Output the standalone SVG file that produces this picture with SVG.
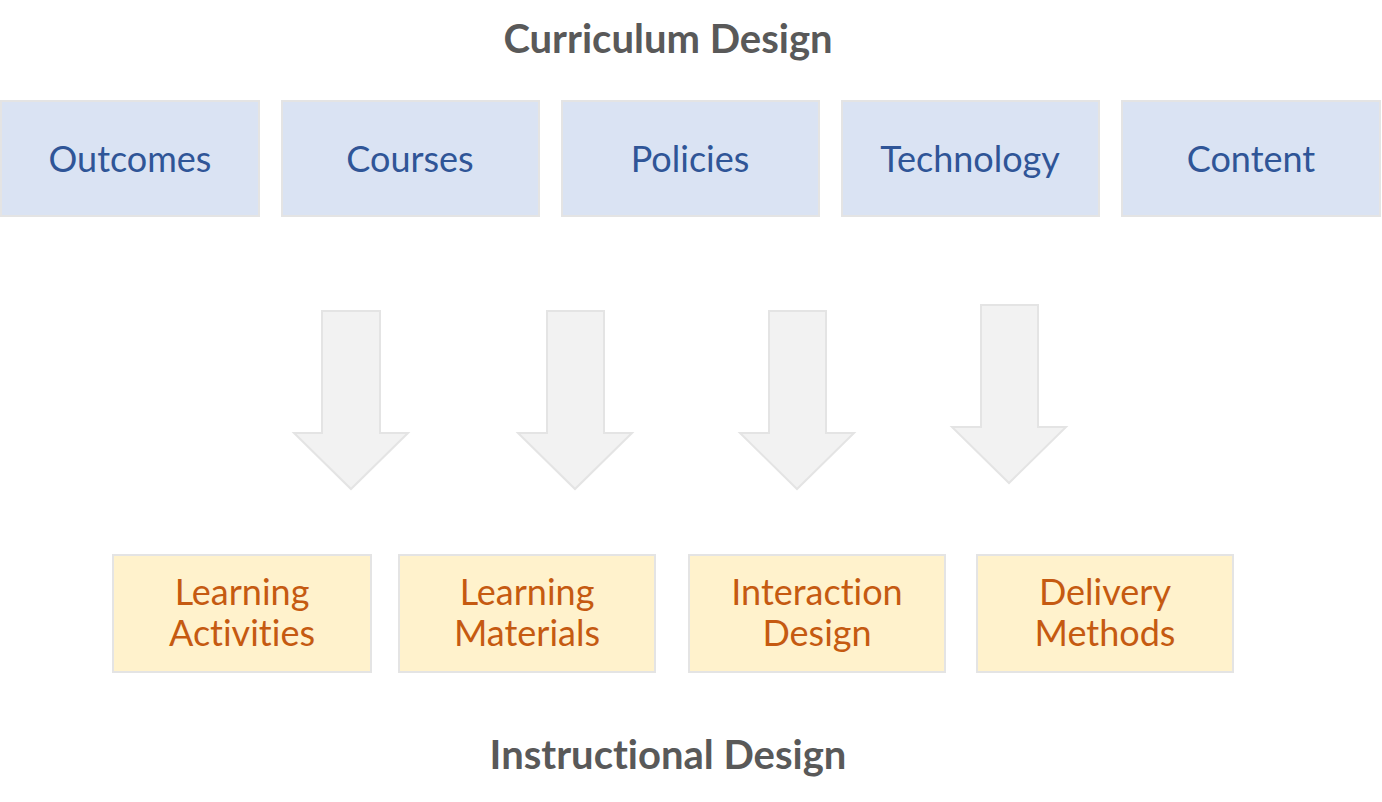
<svg xmlns="http://www.w3.org/2000/svg" width="1382" height="802" viewBox="0 0 1382 802">
<style>
text{font-variant-ligatures:none;font-feature-settings:"liga" 0}
.title{font-family:Lato,"Open Sans",sans-serif;font-weight:bold;font-size:40px;fill:#595959;text-anchor:middle}
.cur rect{fill:#dae3f3;stroke:#e4e4e4;stroke-width:2}
.cur text{font-family:Lato,"Open Sans",sans-serif;font-size:36px;fill:#2f5597;text-anchor:middle}
.ins rect{fill:#fff2cc;stroke:#e4e4e4;stroke-width:2}
.ins text{font-family:Lato,"Open Sans",sans-serif;font-size:36px;fill:#c55a11;text-anchor:middle}
.arr{fill:#f2f2f2;stroke:#e4e4e4;stroke-width:2;stroke-linejoin:miter}
</style>
<rect width="1382" height="802" fill="#ffffff"/>
<text class="title" x="668" y="53">Curriculum Design</text>
<text class="title" x="668" y="769">Instructional Design</text>
<g id="outcomes" class="cur"><rect x="1" y="101" width="258" height="115"/><text x="130" y="172">Outcomes</text></g>
<g id="courses" class="cur"><rect x="282" y="101" width="257" height="115"/><text x="410" y="172">Courses</text></g>
<g id="policies" class="cur"><rect x="562" y="101" width="257" height="115"/><text x="690" y="172">Policies</text></g>
<g id="technology" class="cur"><rect x="842" y="101" width="257" height="115"/><text x="970" y="172">Technology</text></g>
<g id="content" class="cur"><rect x="1122" y="101" width="258" height="115"/><text x="1251" y="172">Content</text></g>
<g id="connectors">
<path class="arr" d="M322,311 H380 V433 H408 L351,489 L294,433 H322 Z"/>
<path class="arr" d="M547,311 H604 V433 H632 L575,489 L518,433 H547 Z"/>
<path class="arr" d="M769,311 H826 V433 H854 L797,489 L740,433 H769 Z"/>
<path class="arr" d="M981,305 H1038 V427 H1066 L1009,483 L952,427 H981 Z"/>
</g>
<g id="learning-activities" class="ins"><rect x="113" y="555" width="258" height="117"/><text x="242" y="605">Learning</text><text x="242" y="646">Activities</text></g>
<g id="learning-materials" class="ins"><rect x="399" y="555" width="256" height="117"/><text x="527" y="605">Learning</text><text x="527" y="646">Materials</text></g>
<g id="interaction-design" class="ins"><rect x="689" y="555" width="256" height="117"/><text x="817" y="605">Interaction</text><text x="817" y="646">Design</text></g>
<g id="delivery-methods" class="ins"><rect x="977" y="555" width="256" height="117"/><text x="1105" y="605">Delivery</text><text x="1105" y="646">Methods</text></g>
</svg>
